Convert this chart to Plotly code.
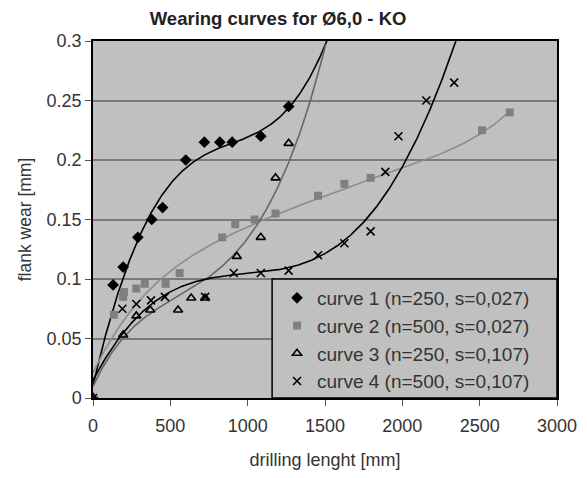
import numpy as np
import plotly.graph_objects as go

c1_x = [0, 130, 195, 290, 380, 450, 600, 720, 820, 900, 1085, 1265]
c1_y = [0, 0.095, 0.11, 0.135, 0.15, 0.16, 0.2, 0.215, 0.215, 0.215, 0.22, 0.245]

c2_x = [0, 135, 195, 200, 280, 335, 470, 560, 835, 920, 1045, 1180, 1455, 1625, 1795, 2515, 2695]
c2_y = [0, 0.07, 0.085, 0.089, 0.092, 0.096, 0.096, 0.105, 0.135, 0.146, 0.15, 0.155, 0.17, 0.18, 0.185, 0.225, 0.24]

c3_x = [0, 195, 280, 370, 550, 635, 725, 930, 1085, 1180, 1265]
c3_y = [0, 0.053, 0.069, 0.074, 0.074, 0.084, 0.084, 0.119, 0.135, 0.185, 0.214]

c4_x = [0, 190, 280, 375, 465, 725, 910, 1085, 1265, 1455, 1625, 1795, 1890, 1975, 2155, 2335]
c4_y = [0, 0.075, 0.079, 0.082, 0.085, 0.085, 0.105, 0.105, 0.107, 0.12, 0.13, 0.14, 0.19, 0.22, 0.25, 0.265]

# ---- trend curves ----
t1_x = [0, 45, 110, 207, 293, 380, 444, 601, 720, 821, 950, 1084, 1180, 1267, 1381, 1488, 1515]
t1_y = [0.008, 0.038, 0.066, 0.108, 0.134, 0.152, 0.167, 0.198, 0.206, 0.211, 0.215, 0.222, 0.232, 0.2457, 0.267, 0.29, 0.302]

t2_x = [0, 100, 250, 500, 700, 900, 1183, 1457, 1700, 1963, 2200, 2517, 2696]
t2_y = [0.02, 0.047, 0.076, 0.105, 0.123, 0.138, 0.155, 0.169, 0.179, 0.19, 0.202, 0.225, 0.24]

t3_x = [0, 100, 196, 282, 379, 562, 750, 929, 1091, 1187, 1306, 1414, 1470, 1505]
t3_y = [0.01, 0.033, 0.052, 0.062, 0.07, 0.088, 0.103, 0.12, 0.15, 0.178, 0.215, 0.25, 0.275, 0.302]

t4_x = [0, 100, 196, 282, 379, 476, 700, 907, 1080, 1270, 1446, 1628, 1779, 1990, 2082, 2200, 2355]
t4_y = [0.013, 0.038, 0.058, 0.07, 0.077, 0.085, 0.097, 0.104, 0.107, 0.112, 0.12, 0.129, 0.15, 0.189, 0.22, 0.25, 0.302]

names = ["curve 1 (n=250, s=0,027)", "curve 2 (n=500, s=0,027)",
         "curve 3 (n=250, s=0,107)", "curve 4 (n=500, s=0,107)"]

x_ticks = [0, 500, 1000, 1500, 2000, 2500, 3000]
y_ticks = [0, 0.05, 0.1, 0.15, 0.2, 0.25, 0.3]
y_tick_text = ["0", "0.05", "0.1", "0.15", "0.2", "0.25", "0.3"]

FONT = "Liberation Sans, Arial, sans-serif"


def smooth(xs, ys, deg):
    """Smooth polynomial through the traced trend points."""
    p = np.polynomial.Polynomial.fit(xs, ys, deg)
    gx = np.linspace(min(xs), max(xs), 400)
    return gx, p(gx)


fig = go.Figure()

trends = [(t1_x, t1_y, "black", 5), (t2_x, t2_y, "#8c8c8c", 5),
          (t3_x, t3_y, "#666666", 5), (t4_x, t4_y, "black", 5)]
for tx, ty, lc, deg in trends:
    gx, gy = smooth(tx, ty, deg)
    fig.add_trace(go.Scatter(x=gx, y=gy, mode="lines",
                             line=dict(color=lc, width=1.6),
                             showlegend=False, hoverinfo="skip"))

markers = [
    (c1_x, c1_y, dict(symbol="diamond", size=9, color="black")),
    (c2_x, c2_y, dict(symbol="square", size=8, color="#808080")),
    (c3_x, c3_y, dict(symbol="triangle-up-open", size=8, color="black", line=dict(width=1.6))),
    (c4_x, c4_y, dict(symbol="x-thin-open", size=8, color="black", line=dict(width=1.6, color="black"))),
]
for (xs, ys, mk), nm in zip(markers, names):
    fig.add_trace(go.Scatter(x=xs, y=ys, mode="markers", marker=mk, name=nm))

# legend box (drawn as a shape so that its size matches the original)
fig.add_shape(type="rect", xref="paper", yref="paper", x0=0.386, x1=1, y0=0, y1=0.3333,
              fillcolor="#c0c0c0", line=dict(color="black", width=1.5), layer="above")

fig.update_layout(
    width=571, height=462,
    margin=dict(l=85, r=22, t=33, b=72, autoexpand=False),
    paper_bgcolor="white", plot_bgcolor="#c0c0c0",
    font=dict(family=FONT, size=18, color="#333333"),
    title=dict(text="<b>Wearing curves for Ø6,0 - KO</b>", x=0.473, xanchor="center",
               xref="container", y=0.978, yanchor="middle",
               font=dict(size=18.5, color="#222222")),
    legend=dict(x=0.3966, xanchor="left", y=0.3333, yanchor="top",
                bgcolor="rgba(0,0,0,0)", borderwidth=0,
                font=dict(size=19, color="#333333"), tracegroupgap=0,
                itemwidth=30),
    showlegend=True,
)
fig.update_xaxes(range=[0, 3000], tickvals=x_ticks, ticks="outside", ticklen=6,
                 tickcolor="#555555", showgrid=False, zeroline=False, automargin=False,
                 ticklabelstandoff=5,
                 showline=True, linecolor="black", linewidth=1.5, mirror=True,
                 title=dict(text="drilling lenght [mm]", font=dict(size=18), standoff=29))
fig.update_yaxes(range=[0, 0.3], tickvals=y_ticks, ticktext=y_tick_text, ticks="outside",
                 ticklen=6, tickcolor="#555555", showgrid=True, gridcolor="#7a7a7a",
                 gridwidth=1.5, zeroline=False, automargin=False,
                 showline=True, linecolor="black", linewidth=1.5, mirror=True,
                 title=dict(text="flank wear [mm]", font=dict(size=17.5), standoff=10))

fig.write_html("out.html")
